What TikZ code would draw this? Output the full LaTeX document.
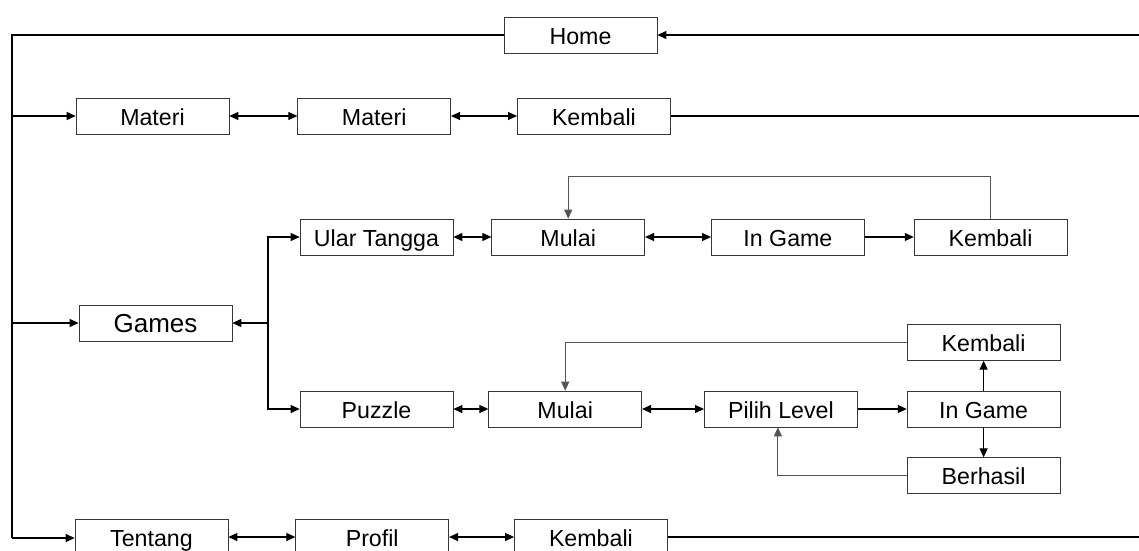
\documentclass[tikz,border=0pt]{standalone}
\usepackage{fontspec}
\setmainfont{Liberation Sans}
\usepackage{tikz}
\usetikzlibrary{arrows.meta,positioning}
\definecolor{boxline}{RGB}{55,55,55}
\definecolor{loopline}{RGB}{85,85,85}
\tikzset{
  box/.style={
    draw=boxline,
    fill=white,
    minimum width=30.6mm,
    minimum height=7.2mm,
    inner sep=0pt,
    text height=3.9mm,
    text depth=0.3mm,
    font=\fontsize{13.2}{15}\selectfont
  },
  bigbox/.style={
    box,
    font=\fontsize{14.8}{16}\selectfont
  },
  arrow/.style={-{Triangle[length=1.8mm,width=1.6mm]}, line width=0.6pt},
  dblarrow/.style={{Triangle[length=1.8mm,width=1.6mm]}-{Triangle[length=1.8mm,width=1.6mm]}, line width=0.6pt},
  plain/.style={line width=0.6pt},
  looparrow/.style={arrow, draw=loopline}
}

\begin{document}
\begin{tikzpicture}[x=0.2mm, y=-0.2mm]
  \useasboundingbox (0,0) rectangle (1139,550);

  \node[box] (home) at (580.5,35) {Home};

  \node[box] (materi) at (152.5,116) {Materi};
  \node[box, right=13.6mm of materi] (materiisi) {Materi};
  \node[box, right=13.2mm of materiisi] (kembalimateri) {Kembali};

  \node[bigbox] (games) at (155.5,323) {Games};

  \node[box] (ular) at (376.5,237) {Ular Tangga};
  \node[box, right=7.6mm of ular] (mulaiular) {Mulai};
  \node[box, right=13.2mm of mulaiular] (ingameular) {In Game};
  \node[box, right=9.8mm of ingameular] (kembaliular) {Kembali};

  \node[box] (puzzle) at (376.5,409) {Puzzle};
  \node[box, right=7mm of puzzle] (mulaipuzzle) {Mulai};
  \node[box, right=12.4mm of mulaipuzzle] (level) {Pilih Level};
  \node[box, right=9.8mm of level] (ingamepuzzle) {In Game};
  \node[box, above=6mm of ingamepuzzle] (kembalipuzzle) {Kembali};
  \node[box, below=6mm of ingamepuzzle] (berhasil) {Berhasil};

  \node[box] (tentang) at (151.5,537) {Tentang};
  \node[box, right=13.4mm of tentang] (profil) {Profil};
  \node[box, right=13mm of profil] (kembalitentang) {Kembali};

  % left bus from Home
  \coordinate (bustop) at (12,35);
  \coordinate (busbot) at (12,538);
  \draw[plain] (home.west) -- (bustop) -- (busbot);
  \draw[arrow] (bustop |- materi) -- (materi.west);
  \draw[arrow] (bustop |- games) -- (games.west);
  \draw[arrow] (busbot) -- (busbot -| tentang.west);

  % right side back to Home
  \coordinate (back) at (1142,80);
  \draw[arrow] (kembalimateri.east) -| (back) |- (home.east);
  \draw[plain] (kembalitentang.east) -| (back);

  \draw[dblarrow] (materi) -- (materiisi);
  \draw[dblarrow] (materiisi) -- (kembalimateri);

  % games branch
  \coordinate (split) at (268,323);
  \draw[arrow] (split) -- (games.east);
  \draw[arrow] (split) |- (ular.west);
  \draw[arrow] (split) |- (puzzle.west);

  \draw[dblarrow] (ular) -- (mulaiular);
  \draw[dblarrow] (mulaiular) -- (ingameular);
  \draw[arrow] (ingameular) -- (kembaliular);
  \draw[looparrow] (kembaliular.north) -- ++(0,-42) -| (mulaiular.north);

  \draw[dblarrow] (puzzle) -- (mulaipuzzle);
  \draw[dblarrow] (mulaipuzzle) -- (level);
  \draw[arrow] (level) -- (ingamepuzzle);
  \draw[arrow] (ingamepuzzle) -- (kembalipuzzle);
  \draw[arrow] (ingamepuzzle) -- (berhasil);
  \draw[looparrow] (kembalipuzzle.west) -| (mulaipuzzle.north);
  \draw[looparrow] (berhasil.west) -| ([xshift=-0.6mm]level.south);

  \draw[dblarrow] (tentang) -- (profil);
  \draw[dblarrow] (profil) -- (kembalitentang);
\end{tikzpicture}
\end{document}
